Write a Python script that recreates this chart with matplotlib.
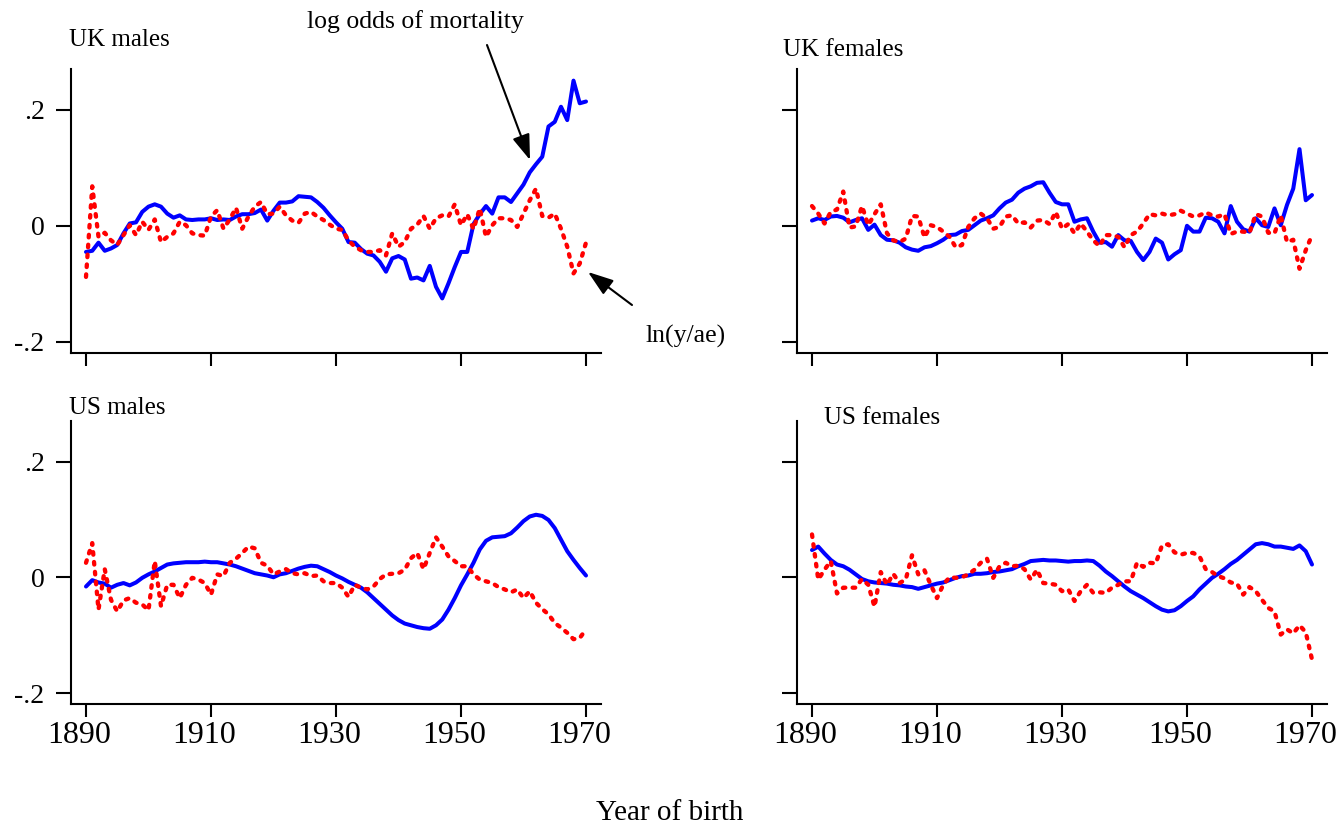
import matplotlib
matplotlib.use("Agg")
import matplotlib.pyplot as plt
from matplotlib.transforms import ScaledTranslation

plt.rcParams['font.family'] = ['Liberation Serif', 'DejaVu Serif']

years = list(range(1890, 1971))

uk_m_logodds = [
    -0.045, -0.043, -0.029, -0.043, -0.039, -0.033, -0.013, 0.004, 0.006, 0.024,
    0.033, 0.037, 0.033, 0.021, 0.014, 0.018, 0.011, 0.010, 0.011, 0.011,
    0.013, 0.010, 0.011, 0.010, 0.016, 0.020, 0.020, 0.022, 0.028, 0.009,
    0.026, 0.040, 0.040, 0.042, 0.051, 0.050, 0.049, 0.041, 0.031, 0.018,
    0.006, -0.005, -0.028, -0.029, -0.040, -0.048, -0.051, -0.062, -0.079, -0.056,
    -0.052, -0.058, -0.091, -0.089, -0.094, -0.069, -0.105, -0.125, -0.099, -0.071,
    -0.045, -0.045, 0.003, 0.020, 0.034, 0.021, 0.049, 0.049, 0.041, 0.056,
    0.071, 0.092, 0.106, 0.119, 0.171, 0.179, 0.205, 0.182, 0.250, 0.211,
    0.214]
uk_m_lny = [
    -0.088, 0.068, -0.019, -0.012, -0.025, -0.033, -0.016, 0.001, -0.016, 0.007,
    -0.007, 0.011, -0.028, -0.019, -0.013, 0.007, 0.001, -0.013, -0.016, -0.017,
    0.016, 0.027, -0.005, 0.011, 0.031, -0.005, 0.016, 0.033, 0.041, 0.020,
    0.021, 0.033, 0.018, 0.009, 0.005, 0.021, 0.024, 0.016, 0.010, 0.002,
    -0.005, -0.007, -0.025, -0.036, -0.042, -0.045, -0.045, -0.042, -0.051, -0.013,
    -0.036, -0.028, -0.005, 0.002, 0.017, -0.005, 0.013, 0.018, 0.016, 0.037,
    0.001, 0.020, -0.006, 0.030, -0.019, 0.001, 0.013, 0.013, 0.010, -0.002,
    0.021, 0.044, 0.064, 0.017, 0.014, 0.021, -0.005, -0.036, -0.082, -0.065,
    -0.029]

uk_f_logodds = [
    0.009, 0.013, 0.010, 0.016, 0.017, 0.014, 0.006, 0.010, 0.013, -0.007,
    0.002, -0.016, -0.024, -0.025, -0.029, -0.037, -0.041, -0.043, -0.037, -0.035,
    -0.030, -0.024, -0.016, -0.015, -0.009, -0.007, 0.001, 0.009, 0.013, 0.018,
    0.030, 0.040, 0.045, 0.057, 0.064, 0.068, 0.074, 0.075, 0.057, 0.041,
    0.037, 0.037, 0.007, 0.011, 0.013, -0.010, -0.029, -0.028, -0.036, -0.016,
    -0.025, -0.026, -0.045, -0.059, -0.045, -0.022, -0.029, -0.058, -0.049, -0.042,
    0.000, -0.010, -0.010, 0.014, 0.013, 0.007, -0.013, 0.034, 0.007, -0.006,
    -0.010, 0.013, 0.001, -0.002, 0.030, 0.001, 0.036, 0.064, 0.132, 0.044,
    0.053]
uk_f_lny = [
    0.034, 0.021, 0.004, 0.024, 0.028, 0.059, -0.003, -0.001, 0.034, 0.001,
    0.020, 0.037, -0.013, -0.025, -0.028, -0.022, 0.017, 0.016, -0.020, 0.001,
    -0.002, -0.010, -0.019, -0.037, -0.033, -0.002, 0.013, 0.021, 0.013, -0.005,
    -0.002, 0.016, 0.018, 0.004, 0.006, -0.003, 0.009, 0.010, 0.003, 0.024,
    -0.005, 0.003, -0.013, 0.004, -0.010, -0.025, -0.035, -0.016, -0.016, -0.019,
    -0.037, -0.016, -0.010, 0.004, 0.020, 0.018, 0.021, 0.018, 0.020, 0.026,
    0.021, 0.016, 0.018, 0.023, 0.018, 0.016, 0.020, -0.014, -0.010, -0.010,
    -0.012, 0.020, 0.016, -0.012, -0.013, 0.018, -0.028, -0.024, -0.074, -0.042,
    -0.016]

us_m_logodds = [
    -0.016, -0.005, -0.009, -0.011, -0.018, -0.013, -0.010, -0.014, -0.009, -0.001,
    0.005, 0.010, 0.016, 0.022, 0.024, 0.025, 0.026, 0.026, 0.026, 0.027,
    0.026, 0.026, 0.024, 0.022, 0.019, 0.015, 0.011, 0.007, 0.005, 0.003,
    0.000, 0.005, 0.007, 0.011, 0.015, 0.018, 0.020, 0.019, 0.014, 0.009,
    0.003, -0.002, -0.008, -0.013, -0.018, -0.026, -0.036, -0.046, -0.056, -0.066,
    -0.074, -0.080, -0.083, -0.086, -0.088, -0.089, -0.083, -0.073, -0.056, -0.036,
    -0.014, 0.005, 0.025, 0.048, 0.063, 0.069, 0.070, 0.071, 0.076, 0.086,
    0.097, 0.105, 0.108, 0.106, 0.099, 0.085, 0.065, 0.045, 0.030, 0.016,
    0.003]
us_m_lny = [
    0.025, 0.059, -0.056, 0.014, -0.039, -0.059, -0.040, -0.036, -0.044, -0.047,
    -0.057, 0.028, -0.050, -0.013, -0.013, -0.036, -0.013, -0.001, -0.004, -0.010,
    -0.030, 0.005, 0.002, 0.025, 0.032, 0.042, 0.053, 0.050, 0.025, 0.020,
    0.005, 0.010, 0.014, 0.007, 0.005, 0.007, 0.002, 0.003, -0.007, -0.010,
    -0.010, -0.018, -0.034, -0.013, -0.018, -0.021, -0.016, -0.003, 0.005, 0.006,
    0.007, 0.013, 0.033, 0.042, 0.014, 0.042, 0.069, 0.053, 0.036, 0.028,
    0.019, 0.019, 0.005, -0.004, -0.007, -0.010, -0.017, -0.021, -0.026, -0.021,
    -0.036, -0.024, -0.044, -0.055, -0.064, -0.079, -0.087, -0.096, -0.107, -0.105,
    -0.090]

us_f_logodds = [
    0.047, 0.053, 0.041, 0.030, 0.022, 0.019, 0.013, 0.005, -0.003, -0.007,
    -0.009, -0.010, -0.011, -0.013, -0.014, -0.016, -0.017, -0.020, -0.017, -0.014,
    -0.011, -0.009, -0.005, -0.001, 0.002, 0.003, 0.006, 0.006, 0.007, 0.009,
    0.010, 0.012, 0.014, 0.019, 0.023, 0.028, 0.029, 0.030, 0.029, 0.029,
    0.028, 0.027, 0.028, 0.028, 0.029, 0.028, 0.020, 0.010, 0.002, -0.007,
    -0.016, -0.024, -0.030, -0.036, -0.043, -0.050, -0.056, -0.059, -0.057, -0.050,
    -0.041, -0.033, -0.021, -0.011, -0.001, 0.006, 0.014, 0.023, 0.030, 0.039,
    0.048, 0.057, 0.059, 0.057, 0.053, 0.053, 0.051, 0.049, 0.055, 0.045,
    0.022]
us_f_lny = [
    0.074, -0.004, 0.013, 0.028, -0.028, -0.018, -0.018, -0.018, -0.003, -0.013,
    -0.051, 0.009, -0.013, 0.006, -0.010, -0.004, 0.038, 0.005, 0.012, -0.013,
    -0.036, -0.013, 0.000, -0.001, 0.000, 0.005, 0.013, 0.025, 0.032, -0.001,
    0.019, 0.025, 0.019, 0.020, 0.014, -0.004, 0.013, -0.010, -0.011, -0.013,
    -0.024, -0.021, -0.041, -0.024, -0.013, -0.027, -0.026, -0.027, -0.018, -0.013,
    -0.007, -0.007, 0.025, 0.018, 0.025, 0.024, 0.055, 0.057, 0.043, 0.039,
    0.042, 0.042, 0.036, 0.014, 0.009, 0.002, -0.002, -0.009, -0.011, -0.030,
    -0.017, -0.024, -0.039, -0.053, -0.059, -0.099, -0.090, -0.097, -0.083, -0.095,
    -0.142]

panel_titles = ["UK males", "UK females", "US males", "US females"]
xtick_vals = [1890, 1910, 1930, 1950, 1970]
ytick_vals = [-0.2, 0.0, 0.2]
ytick_labels = ["-.2", "0", ".2"]

W, H = 1340, 830
fig = plt.figure(figsize=(W / 100, H / 100), dpi=100)


def fx(x):
    return x / W


def fy(y):
    return 1 - y / H


# axes rectangles from pixel coordinates (left, top, right, bottom)
rects = [(71, 69, 601, 353), (797, 69, 1327, 353),
         (71, 421, 601, 704), (797, 421, 1327, 704)]
series = [(uk_m_logodds, uk_m_lny), (uk_f_logodds, uk_f_lny),
          (us_m_logodds, us_m_lny), (us_f_logodds, us_f_lny)]

BLUE = "#0000FF"
RED = "#FF0000"

shift = ScaledTranslation(-7 / 100, 0, fig.dpi_scale_trans)

for i, ((l, t, r, b), (blue, red)) in enumerate(zip(rects, series)):
    ax = fig.add_axes([fx(l), fy(b), (r - l) / W, (b - t) / H])
    ax.plot(years, blue, color=BLUE, lw=2.9, solid_capstyle='round',
            solid_joinstyle='round', zorder=3)
    ax.plot(years, red, color=RED, lw=3.1, linestyle=(0, (0.6, 1.7)),
            dash_capstyle='round', zorder=4)
    ax.set_xlim(1887.6, 1972.4)
    ax.set_ylim(-0.219, 0.27)
    for s in ("top", "right"):
        ax.spines[s].set_visible(False)
    for s in ("left", "bottom"):
        ax.spines[s].set_linewidth(1.5)
    ax.set_xticks(xtick_vals)
    ax.set_yticks(ytick_vals)
    ax.tick_params(axis='y', direction='out', length=10.5, width=1.5, pad=8.5,
                   labelsize=20)
    ax.tick_params(axis='x', direction='out', length=9.5, width=1.5, pad=3,
                   labelsize=23)
    if i >= 2:
        ax.set_xticklabels([str(v) for v in xtick_vals])
        for lab in ax.get_xticklabels():
            lab.set_transform(lab.get_transform() + shift)
    else:
        ax.set_xticklabels([])
    if i % 2 == 0:
        ax.set_yticklabels(ytick_labels)
    else:
        ax.set_yticklabels([])
    ax.patch.set_alpha(0)

# panel titles
title_pos = [(69, 40), (783, 50), (69, 408), (824, 418)]
for (x, y), txt in zip(title_pos, panel_titles):
    fig.text(fx(x), fy(y), txt, fontsize=18, ha='left', va='center')

# annotations
fig.text(fx(415), fy(22), "log odds of mortality", fontsize=18.5,
         ha='center', va='center')
fig.text(fx(686), fy(336), "ln(y/ae)", fontsize=18.5, ha='center', va='center')

arrow_kw = dict(arrowstyle='-|>,head_length=1.3,head_width=0.45',
                color='black', lw=1.5, mutation_scale=12, shrinkA=0, shrinkB=0)
fig.add_artist(matplotlib.patches.FancyArrowPatch(
    (fx(487), fy(45)), (fx(530), fy(160)), transform=fig.transFigure, **arrow_kw))
fig.add_artist(matplotlib.patches.FancyArrowPatch(
    (fx(632), fy(305)), (fx(588), fy(272)), transform=fig.transFigure, **arrow_kw))

fig.text(fx(670), fy(813), "Year of birth", fontsize=21, ha='center', va='center')

fig.savefig("out.png", dpi=100)
